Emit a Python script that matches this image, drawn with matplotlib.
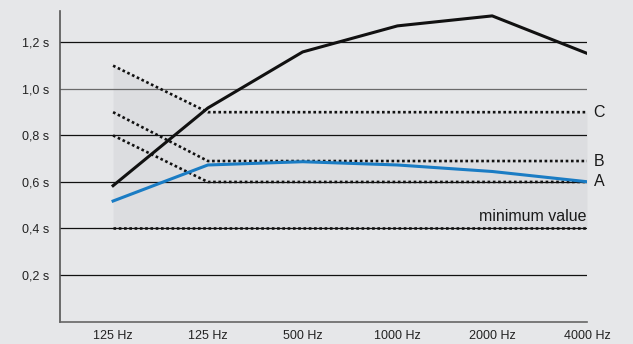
import matplotlib.pyplot as plt

# Données
freqs = ["125 Hz", "125 Hz", "500 Hz", "1000 Hz", "2000 Hz", "4000 Hz"]
measured = [0.584, 0.918, 1.159, 1.271, 1.314, 1.153]
blue_series = [0.518, 0.673, 0.687, 0.673, 0.645, 0.601]
limit_c = [1.10, 0.90, 0.90, 0.90, 0.90, 0.90]
limit_b = [0.90, 0.69, 0.69, 0.69, 0.69, 0.69]
limit_a = [0.80, 0.60, 0.60, 0.60, 0.60, 0.60]
minimum = [0.40, 0.40, 0.40, 0.40, 0.40, 0.40]
yticks = [0.2, 0.4, 0.6, 0.8, 1.0, 1.2]
ytick_labels = ["0,2 s", "0,4 s", "0,6 s", "0,8 s", "1,0 s", "1,2 s"]

plt.rcParams['font.family'] = ['Liberation Sans', 'DejaVu Sans']

bg = "#e6e7e9"
fig = plt.figure(figsize=(6.33, 3.44), dpi=100, facecolor=bg)
ax = fig.add_axes([0.0948, 0.0654, 0.8325, 0.9026])
ax.set_facecolor(bg)

x = list(range(len(freqs)))

# Zone grisée
ax.fill_between(x, minimum, limit_c, color="#dcdde0", lw=0, zorder=0)

# Grille horizontale
for v in yticks:
    col = "#6a6a6a" if v == 1.0 else "#111111"
    ax.plot([-0.56, 5], [v, v], color=col, lw=0.9, zorder=1)

# Courbes limites en pointillés
dots = (0, (1, 1.0))
for ys in (limit_c, limit_b, limit_a, minimum):
    ax.plot(x, ys, color="#111111", lw=1.9, linestyle=dots, zorder=2)

# Courbes mesurées
ax.plot(x, measured, color="#111111", lw=2.2, zorder=3)
ax.plot(x, blue_series, color="#1a7cc4", lw=2.2, zorder=3)

# Étiquettes
for lab, v in (("C", limit_c[-1]), ("B", limit_b[-1]), ("A", limit_a[-1])):
    ax.text(5.07, v, lab, fontsize=11.5, color="#1a1a1a", va="center", ha="left")
ax.text(5, 0.43, "minimum value", fontsize=11.5, color="#1a1a1a", ha="right", va="baseline")

ax.set_xlim(-0.56, 5)
ax.set_ylim(0, 1.335)
ax.set_xticks(x)
ax.set_xticklabels(freqs, fontsize=9, color="#222222")
ax.set_yticks(yticks)
ax.set_yticklabels(ytick_labels, fontsize=9, color="#222222")
ax.tick_params(length=0, pad=8)
ax.tick_params(axis="x", pad=6)

for s in ("top", "right"):
    ax.spines[s].set_visible(False)
ax.spines["left"].set_color("#555555")
ax.spines["bottom"].set_color("#666666")
ax.spines["left"].set_linewidth(1.2)
ax.spines["bottom"].set_linewidth(1.2)

fig.savefig("out.png", dpi=100, facecolor=bg)
